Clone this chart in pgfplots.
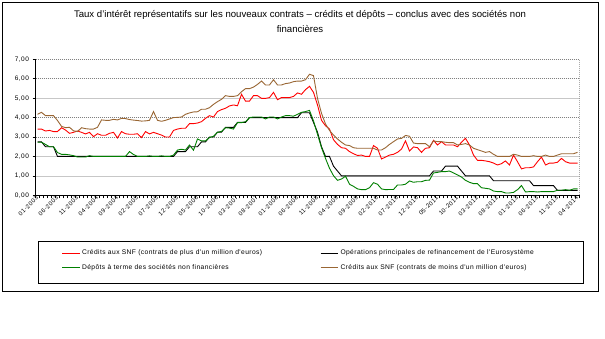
\documentclass[border=0pt]{standalone}
\usepackage{fontspec}
\setmainfont{Liberation Sans}
\newfontfamily\tickfont[LetterSpace=8]{Liberation Sans}
\newfontfamily\legfont[LetterSpace=6]{Liberation Sans}
\usepackage{pgfplots}
\pgfplotsset{compat=1.18}
\usepackage{pgfplotstable}
\definecolor{ebrown}{RGB}{153,102,51}
\definecolor{egreen}{RGB}{0,128,0}
\pgfplotstableread{
i red black green brown
0 3.41 2.75 2.73 4.17
1 3.41 2.75 2.73 4.27
2 3.31 2.50 2.62 4.10
3 3.34 2.50 2.50 4.10
4 3.28 2.50 2.50 4.10
5 3.28 2.00 2.20 3.85
6 3.48 2.00 2.11 3.55
7 3.36 2.00 2.11 3.48
8 3.19 2.00 2.08 3.50
9 3.24 2.00 2.04 3.32
10 3.31 2.00 1.97 3.28
11 3.24 2.00 1.97 3.48
12 3.16 2.00 1.97 3.43
13 3.24 2.00 2.04 3.41
14 3.02 2.00 2.00 3.41
15 3.17 2.00 2.00 3.50
16 3.09 2.00 2.00 3.88
17 3.09 2.00 2.00 3.86
18 3.19 2.00 2.00 3.86
19 3.24 2.00 2.00 3.91
20 2.95 2.00 2.00 3.88
21 3.28 2.00 2.00 3.96
22 3.17 2.00 2.00 3.95
23 3.14 2.00 2.25 3.90
24 3.14 2.00 2.10 3.87
25 3.17 2.00 2.00 3.85
26 2.97 2.00 2.00 3.82
27 3.28 2.00 2.00 3.83
28 3.16 2.00 2.03 3.86
29 3.24 2.00 2.00 4.31
30 3.17 2.00 2.00 3.86
31 3.10 2.00 2.03 3.81
32 3.00 2.00 2.00 3.86
33 3.00 2.00 2.00 3.93
34 3.34 2.00 2.07 4.00
35 3.41 2.25 2.33 4.01
36 3.45 2.25 2.37 4.03
37 3.45 2.25 2.33 4.17
38 3.69 2.50 2.59 4.24
39 3.69 2.50 2.32 4.29
40 3.72 2.50 2.90 4.30
41 3.79 2.75 2.80 4.43
42 3.96 2.75 2.80 4.43
43 4.10 3.00 2.97 4.51
44 4.03 3.00 3.04 4.68
45 4.31 3.25 3.24 4.82
46 4.41 3.25 3.29 4.94
47 4.48 3.50 3.48 5.13
48 4.60 3.50 3.46 5.09
49 4.65 3.50 3.41 5.09
50 4.61 3.75 3.74 5.13
51 5.20 3.75 3.74 5.33
52 4.85 3.75 3.79 5.49
53 4.85 4.00 4.00 5.49
54 5.13 4.00 4.03 5.57
55 5.13 4.00 4.03 5.71
56 4.99 4.00 4.03 5.88
57 4.99 4.00 3.93 5.68
58 5.03 4.00 4.03 5.68
59 5.30 4.00 4.03 5.95
60 4.92 4.00 3.93 5.68
61 5.03 4.00 4.03 5.68
62 5.03 4.00 4.10 5.75
63 5.03 4.00 4.10 5.78
64 5.09 4.00 4.07 5.85
65 5.27 4.00 4.17 5.88
66 5.20 4.25 4.27 5.88
67 5.44 4.25 4.31 5.95
68 5.61 4.25 4.37 6.23
69 5.30 3.75 3.83 6.16
70 4.65 3.25 3.14 4.99
71 3.86 2.50 2.45 4.22
72 3.58 2.00 1.90 3.67
73 3.41 2.00 1.39 3.34
74 2.86 1.50 1.01 3.10
75 2.62 1.25 0.77 2.90
76 2.45 1.00 0.84 2.73
77 2.42 1.00 0.98 2.59
78 2.25 1.00 0.57 2.56
79 2.14 1.00 0.46 2.45
80 2.05 1.00 0.33 2.42
81 2.07 1.00 0.29 2.42
82 2.00 1.00 0.29 2.42
83 2.00 1.00 0.39 2.42
84 2.56 1.00 0.65 2.42
85 2.42 1.00 0.57 2.33
86 1.87 1.00 0.33 2.33
87 1.97 1.00 0.29 2.45
88 2.07 1.00 0.30 2.62
89 2.11 1.00 0.30 2.76
90 2.21 1.00 0.53 2.90
91 2.38 1.00 0.53 2.93
92 2.80 1.00 0.57 3.08
93 2.28 1.00 0.74 3.04
94 2.49 1.00 0.67 2.69
95 2.45 1.00 0.70 2.66
96 2.21 1.00 0.70 2.66
97 2.42 1.00 0.77 2.66
98 2.45 1.00 0.78 2.50
99 2.83 1.25 1.15 2.80
100 2.59 1.25 1.18 2.76
101 2.76 1.25 1.22 2.76
102 2.59 1.50 1.22 2.73
103 2.59 1.50 1.25 2.71
104 2.59 1.50 1.15 2.71
105 2.50 1.50 1.05 2.59
106 2.73 1.25 0.94 2.62
107 2.93 1.00 0.77 2.66
108 2.59 1.00 0.67 2.59
109 2.07 1.00 0.60 2.42
110 1.80 1.00 0.60 2.35
111 1.80 1.00 0.39 2.28
112 1.77 1.00 0.36 2.21
113 1.73 1.00 0.33 2.25
114 1.66 0.75 0.22 2.11
115 1.56 0.75 0.19 2.00
116 1.63 0.75 0.19 2.00
117 1.77 0.75 0.12 2.00
118 1.56 0.75 0.12 2.00
119 2.07 0.75 0.15 2.11
120 1.73 0.75 0.29 2.07
121 1.36 0.75 0.50 2.00
122 1.42 0.75 0.17 2.00
123 1.42 0.75 0.19 2.00
124 1.46 0.50 0.19 2.04
125 1.73 0.50 0.17 2.00
126 1.97 0.50 0.19 2.00
127 1.56 0.50 0.19 2.07
128 1.66 0.50 0.19 2.00
129 1.66 0.50 0.19 2.00
130 1.70 0.25 0.26 2.07
131 1.90 0.25 0.26 2.14
132 1.73 0.25 0.29 2.14
133 1.66 0.25 0.26 2.14
134 1.66 0.25 0.33 2.14
135 1.66 0.25 0.33 2.21
}\data
\begin{document}
\begin{tikzpicture}
\path[use as bounding box] (0pt,0pt) rectangle (605pt,338pt);
\fill[white] (0pt,0pt) rectangle (605pt,338pt);
\draw[line width=0.8pt] (2pt,47pt) rectangle (598pt,336pt);
\node[align=center, font=\fontsize{9.6}{15}\selectfont] at (300pt,316.5pt)
  {Taux d'intérêt représentatifs sur les nouveaux contrats -- crédits et dépôts -- conclus avec des sociétés non\\financières};
\begin{axis}[
  at={(35.5pt,142.7pt)}, anchor=south west, scale only axis,
  width=544pt, height=136pt,
  xmin=-0.5, xmax=135.5, ymin=0, ymax=7,
  axis x line*=bottom, axis y line*=left,
  x axis line style={-}, y axis line style={-},
  axis line style={black, line width=0.7pt},
  tick align=outside, major tick length=3pt,
  tick style={black, line width=0.6pt},
  xtick={-0.5,0.5,...,135.5}, xticklabels={},
  extra x ticks={0,5,...,135},
  extra x tick labels={01-2003,06-2003,11-2003,04-2004,09-2004,02-2005,07-2005,12-2005,05-2006,10-2006,03-2007,08-2007,01-2008,06-2008,11-2008,04-2009,09-2009,02-2010,07-2010,12-2010,05-2011,10-2011,03-2012,08-2012,01-2013,06-2013,11-2013,04-2014},
  extra x tick style={major tick length=0pt, xmajorgrids=false,
     tick label style={rotate=45, anchor=east, font=\tickfont\fontsize{6}{7}\selectfont, xshift=2pt, yshift=-1pt}},
  ytick={0,3,4,6,7},
  extra y ticks={1,2,5},
  ymajorgrids=true,
  major grid style={gray, dash pattern=on 1pt off 1pt, line width=0.6pt},
  extra y tick style={ymajorgrids=true, major grid style={black!22, solid, line width=0.6pt}},
  /pgf/number format/.cd, fixed, fixed zerofill, precision=2, use comma, assume math mode=true,
  /pgfplots/.cd,
  yticklabel style={font=\tickfont\fontsize{6.5}{7}\selectfont},
  legend columns=2,
  legend cell align=left,
  legend image code/.code={\draw[#1] (0pt,0pt) -- (17.5pt,0pt);},
  legend style={draw=none, fill=none, at={(0.0478,-0.385)}, anchor=north west,
     inner sep=0pt, row sep=4pt, font=\legfont\fontsize{6.7}{8}\selectfont,
     /tikz/every even column/.append style={column sep=2pt},
     /tikz/every odd column/.append style={column sep=0pt}},
]
\addplot[red, line width=0.9pt, no markers] table[x=i, y=red] {\data};
\addlegendentry{\makebox[234pt][l]{Crédits aux SNF (contrats de plus d'un million d'euros)}}
\addplot[black, line width=0.9pt, no markers] table[x=i, y=black] {\data};
\addlegendentry{Opérations principales de refinancement de l'Eurosystème}
\addplot[egreen, line width=0.9pt, no markers] table[x=i, y=green] {\data};
\addlegendentry{\makebox[234pt][l]{Dépôts à terme des sociétés non financières}}
\addplot[ebrown, line width=0.9pt, no markers] table[x=i, y=brown] {\data};
\addlegendentry{Crédits aux SNF (contrats de moins d'un million d'euros)}
\draw[gray, dash pattern=on 1pt off 1pt, line width=0.6pt] (rel axis cs:1,0) -- (rel axis cs:1,1);
\end{axis}
\draw[line width=0.6pt] (38pt,55pt) rectangle (583pt,97pt);
\end{tikzpicture}
\end{document}
